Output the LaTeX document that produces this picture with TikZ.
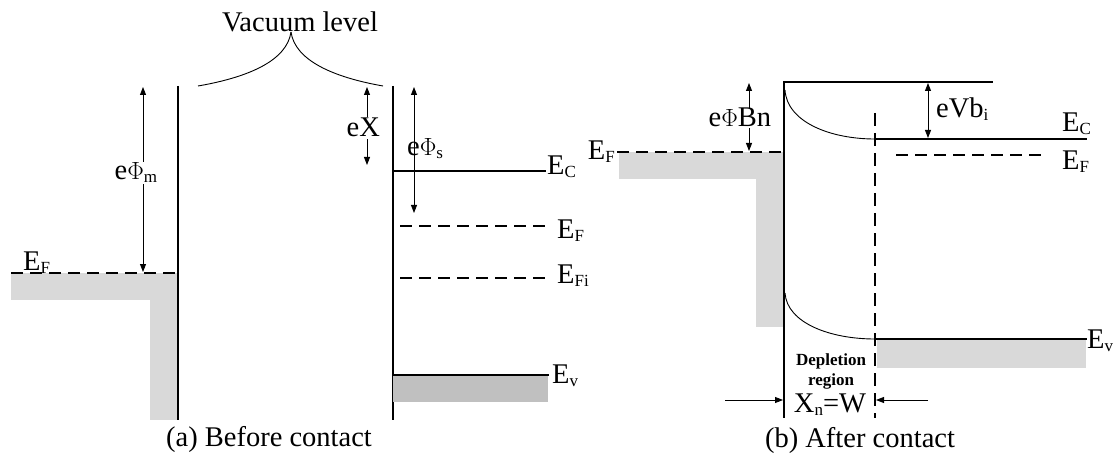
\documentclass[tikz,border=0pt]{standalone}
\usepackage{fontspec}
\setmainfont{Liberation Serif}
\usetikzlibrary{arrows.meta}
\newcommand{\lsub}[1]{\raisebox{-3pt}{\fontsize{17}{17}\selectfont #1}}
\definecolor{lgray}{HTML}{D9D9D9}
\definecolor{dgray}{HTML}{C0C0C0}
\begin{document}
\begin{tikzpicture}[x=1pt,y=-1pt,
  thickline/.style={line width=2pt},
  thinline/.style={line width=0.9pt},
  dline/.style={line width=2pt, dash pattern=on 12pt off 7pt},
  arr/.style={line width=0.9pt, {Triangle[length=8pt,width=6pt]}-{Triangle[length=8pt,width=6pt]}},
  sarr/.style={line width=0.9pt, -{Triangle[length=8pt,width=6pt]}},
  lbl/.style={font=\fontsize{28.5}{32}\selectfont, inner sep=0pt, anchor=base west},
  wlbl/.style={lbl, fill=white, inner sep=1.5pt},
  captxt/.style={font=\fontsize{28.5}{32}\selectfont, inner sep=0pt, anchor=base}]
\useasboundingbox (0,0) rectangle (1116,457);

% ---------- (a) Before contact ----------
\fill[lgray] (11,273) rectangle (178,300);
\fill[lgray] (150,273) rectangle (178,420);
\draw[dline] (11,273) -- (178,273);
\node[lbl] (aEF) at (23,270) {E\lsub{F}};
\draw[thickline] (178,86) -- (178,420);
\draw[thickline] (393,86) -- (393,420);

\node[captxt] (vac) at (300,32) {Vacuum level};
\coordinate (vtip) at (291,32);
\coordinate (vl) at (198,86);
\coordinate (vr) at (383,86);
\draw[thinline] (vl) .. controls (250,77) and (287,60) .. (vtip);
\draw[thinline] (vtip) .. controls (295,60) and (332,77) .. (vr);

\coordinate (m1) at (143,87);
\coordinate (m2) at (143,272);
\draw[arr] (m1) -- (m2);
\node[wlbl] (phim) at (113,180) {e$\Phi$\lsub{m}};

\coordinate (x1) at (367,87);
\coordinate (x2) at (367,165);
\draw[arr] (x1) -- (x2);
\node[wlbl] (chi) at (345,137) {eX};

\coordinate (s1) at (414,87);
\coordinate (s2) at (414,213);
\draw[arr] (s1) -- (s2);
\node[lbl] (phis) at (407,156) {e$\Phi$\lsub{s}};

\draw[thickline] (393,171) -- (546,171);
\node[lbl] (aEC) at (547,175) {E\lsub{C}};
\draw[dline] (400,226) -- (545,226);
\node[lbl] (aEFs) at (557,238) {E\lsub{F}};
\draw[dline] (400,278) -- (545,278);
\node[lbl] (aEFi) at (557,283) {E\lsub{Fi}};
\fill[dgray] (393,375) rectangle (548,402);
\draw[thickline] (393,375) -- (549,375);
\node[lbl] (aEv) at (552,383) {E\lsub{v}};

\node[captxt] (capa) at (269,446) {(a) Before contact};

% ---------- (b) After contact ----------
\fill[lgray] (619,152) rectangle (784,179);
\fill[lgray] (756,152) rectangle (784,327);
\draw[dline] (617,152) -- (784,152);
\node[lbl, anchor=base east] (bEF) at (615,160) {E\lsub{F}};

\draw[thickline] (784,82) -- (784,418);
\draw[thickline] (783,82) -- (993,82);

\coordinate (b1) at (749,83);
\coordinate (b2) at (749,151);
\draw[arr] (b1) -- (b2);
\node[wlbl, inner sep=0.5pt] (phib) at (708,127) {e$\Phi$Bn};

\draw[thinline] (785,90) .. controls (787,122) and (830,139) .. (875,139);
\draw[thinline] (785,293) .. controls (787,323) and (830,339) .. (875,339);

\draw[line width=2pt, dash pattern=on 13pt off 7pt] (875,113) -- (875,418);

\draw[thickline] (875,139) -- (1087,139);
\node[lbl] (bEC) at (1062,132) {E\lsub{C}};
\draw[dline] (896,155) -- (1045,155);
\node[lbl] (bEFs) at (1062,170) {E\lsub{F}};

\coordinate (v1) at (928,83);
\coordinate (v2) at (928,138);
\draw[arr] (v1) -- (v2);
\node[lbl] (vbi) at (936,118) {eVb\lsub{i}};

\fill[lgray] (877,340) rectangle (1086,368);
\draw[thickline] (875,339) -- (1087,339);
\node[lbl] (bEv) at (1087,348) {E\lsub{v}};

\node[font=\bfseries\fontsize{17}{20}\selectfont, align=center, inner sep=0pt, anchor=base] (dep) at (831,385) {Depletion\\region};

\coordinate (la) at (725,400);
\coordinate (lb) at (783,400);
\coordinate (ra) at (928,400);
\coordinate (rb) at (876,400);
\draw[sarr] (la) -- (lb);
\draw[sarr] (ra) -- (rb);
\node[captxt] (xn) at (830,412) {X\lsub{n}=W};

\node[captxt] (capb) at (860,447) {(b) After contact};
\end{tikzpicture}
\end{document}
